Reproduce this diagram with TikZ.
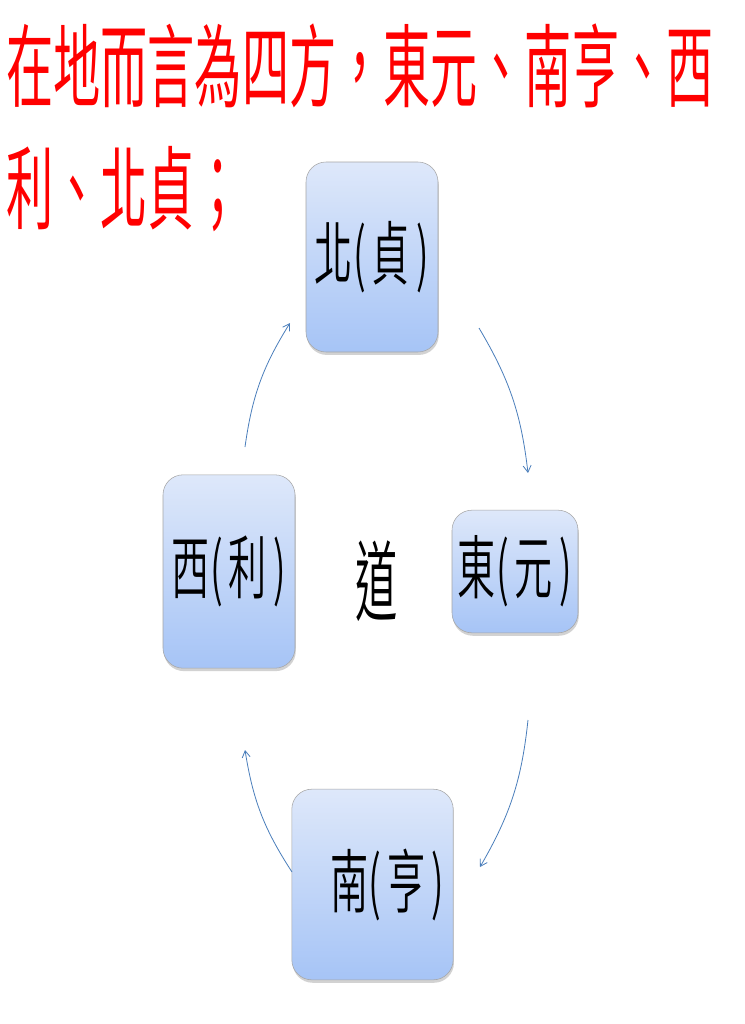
\documentclass[tikz,border=0pt]{standalone}
\usepackage{fontspec}
\usepackage{graphicx}
\usetikzlibrary{shadows}
\usetikzlibrary{arrows}
\usetikzlibrary{arrows.meta}
\newfontfamily\cjk{Noto Sans CJK TC DemiLight}
\newfontfamily\cjktitle{Noto Sans CJK TC}
\newcommand{\squeezed}[2][0.52]{\scalebox{#1}[1]{#2}}
\definecolor{arcblue}{RGB}{74,126,187}
\definecolor{boxtop}{RGB}{222,232,250}
\definecolor{boxbottom}{RGB}{166,196,246}

\begin{document}
\begin{tikzpicture}[x=0.75pt,y=-0.75pt]
\tikzstyle{fang}=[rectangle,rounded corners=15pt,draw=black!35,thin,
top color=boxtop,bottom color=boxbottom,inner sep=0pt,
drop shadow={opacity=0.35,shadow xshift=0.6pt,shadow yshift=-2.2pt},
font=\cjk\fontsize{52}{52}\selectfont]
\tikzstyle{flow}=[-{Straight Barb[length=5pt,width=6pt]},draw=arcblue,line width=0.6pt,bend left=12]
\useasboundingbox[fill=white] (0,0) rectangle (745,1024);
% title
\node[anchor=west,inner sep=0pt,text=red,font=\cjktitle\fontsize{68}{68}\selectfont] (title1) at (6,66)
{\squeezed{在地而言為四方，東元、南亨、西}};
\node[anchor=west,inner sep=0pt,text=red,font=\cjktitle\fontsize{68}{68}\selectfont] (title2) at (6,189)
{\squeezed{利、北貞；}};
% four directions
\node[fang,minimum width=99pt,minimum height=142.5pt] (bei) at (372,257) {\squeezed[0.55]{北(\,貞\,)}};
\node[fang,minimum width=99pt,minimum height=145pt] (xi) at (229,571.5) {\squeezed[0.55]{西(\,利\,)}};
\node[fang,minimum width=94.5pt,minimum height=92pt] (dong) at (515,571.5) {\squeezed[0.55]{東(\,元\,)}};
\node[fang,minimum width=121pt,minimum height=143pt] (nan) at (372.5,884.5) {\hspace{22pt}\raisebox{9pt}{\squeezed[0.55]{南(\,亨\,)}}};
\node[inner sep=0pt,font=\cjk\fontsize{66}{66}\selectfont] (dao) at (377,581) {\squeezed[0.48]{道}};
% arcs
\coordinate (ne1) at (479,328);
\coordinate (ne2) at (528,473);
\coordinate (es1) at (528,720);
\coordinate (es2) at (480,867);
\coordinate (sw1) at (292,872);
\coordinate (sw2) at (245,750);
\coordinate (wn1) at (245,447);
\coordinate (wn2) at (290,323);
\draw[flow] (ne1) to (ne2);
\draw[flow] (es1) to (es2);
\draw[flow] (sw1) to (sw2);
\draw[flow] (wn1) to (wn2);
\end{tikzpicture}
\end{document}
